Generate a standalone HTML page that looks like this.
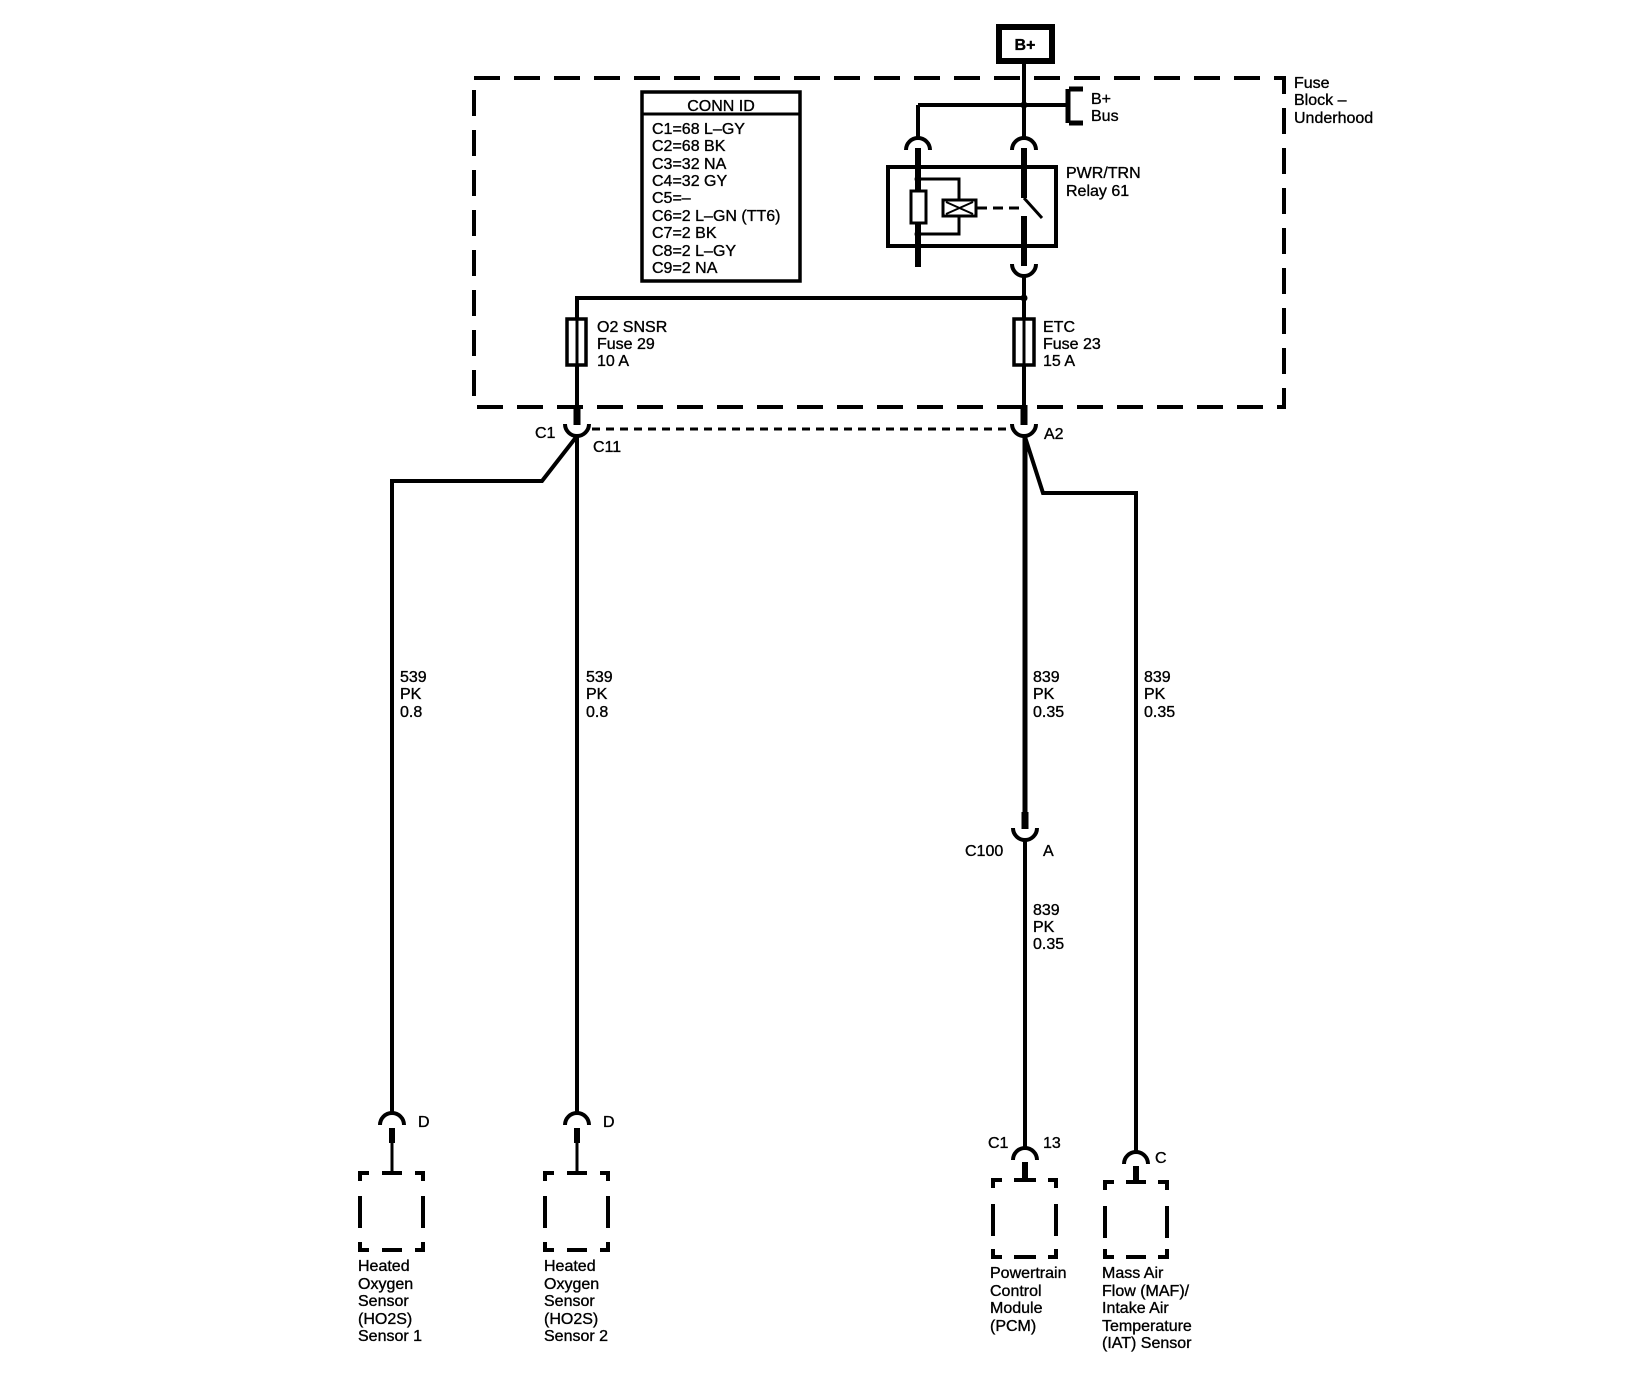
<!DOCTYPE html>
<html><head><meta charset="utf-8"><style>
html,body{margin:0;padding:0;background:#fff;}
svg{display:block;}
text{font-family:"Liberation Sans",Arial,sans-serif;font-size:16px;fill:#000;stroke:#000;stroke-width:0.35px;}
</style></head><body>
<svg width="1648" height="1376" viewBox="0 0 1648 1376" xmlns="http://www.w3.org/2000/svg">
<g fill="none" stroke="#000" stroke-linecap="butt">
<rect x="999" y="27" width="53" height="34" stroke-width="6"/>
<path d="M474 78 H1284 V407 H474 Z" stroke-width="4" stroke-dasharray="26 14"/>
<line x1="1024" y1="61" x2="1024" y2="138" stroke-width="4"/>
<line x1="918" y1="105" x2="1066" y2="105" stroke-width="4"/>
<line x1="918" y1="105" x2="918" y2="138" stroke-width="4"/>
<path d="M1069 89 H1083 M1068 89 V123 M1069 123 H1083" stroke-width="5"/>
<path d="M906 150 A12 12 0 0 1 930 150" stroke-width="4"/>
<path d="M1012 150 A12 12 0 0 1 1036 150" stroke-width="4"/>
<rect x="888" y="167" width="168" height="79" stroke-width="4"/>
<line x1="918" y1="148" x2="918" y2="267" stroke-width="6"/>
<path d="M918 179 H959 V234 H918" stroke-width="3"/>
<rect x="911" y="191" width="15" height="32" stroke-width="3" fill="#fff"/>
<rect x="943" y="200" width="33" height="16" stroke-width="3" fill="#fff"/>
<path d="M946 202 L973 214 M946 214 L973 202" stroke-width="2"/>
<line x1="977" y1="208" x2="1020" y2="208" stroke-width="3" stroke-dasharray="10 6"/>
<line x1="1024" y1="148" x2="1024" y2="198" stroke-width="6"/>
<line x1="1024" y1="198" x2="1042" y2="218" stroke-width="3"/>
<line x1="1024" y1="216" x2="1024" y2="266" stroke-width="6"/>
<path d="M1012 264 A12 12 0 0 0 1036 264" stroke-width="4"/>
<line x1="1024" y1="276" x2="1024" y2="410" stroke-width="4"/>
<line x1="576" y1="298" x2="1024" y2="298" stroke-width="4"/>
<line x1="577" y1="296" x2="577" y2="410" stroke-width="4"/>
<rect x="567" y="319" width="19" height="46" stroke-width="3.5" fill="#fff"/>
<line x1="577" y1="319" x2="577" y2="365" stroke-width="3"/>
<rect x="1014" y="319" width="20" height="46" stroke-width="3.5" fill="#fff"/>
<line x1="1024" y1="319" x2="1024" y2="365" stroke-width="3"/>
<rect x="642" y="92" width="158" height="189" stroke-width="3.5"/>
<line x1="642" y1="114" x2="800" y2="114" stroke-width="3"/>
<line x1="577" y1="405" x2="577" y2="425" stroke-width="7"/>
<line x1="1024" y1="405" x2="1024" y2="425" stroke-width="7"/>
<path d="M565 424 A12 12 0 0 0 589 424" stroke-width="4"/>
<path d="M1012 424 A12 12 0 0 0 1036 424" stroke-width="4"/>
<line x1="592" y1="429" x2="1010" y2="429" stroke-width="3" stroke-dasharray="8 6"/>
<path d="M577 436 L542 481 H392 V1113" stroke-width="4"/>
<line x1="577" y1="436" x2="577" y2="1113" stroke-width="4"/>
<line x1="1025" y1="436" x2="1025" y2="815" stroke-width="5"/>
<path d="M1025 437 L1043 493 H1136 V1152" stroke-width="4"/>
<line x1="1025" y1="812" x2="1025" y2="829" stroke-width="7"/>
<path d="M1013 828 A12 12 0 0 0 1037 828" stroke-width="4"/>
<line x1="1025" y1="840" x2="1025" y2="1148" stroke-width="4"/>
<path d="M380 1125 A12 12 0 0 1 404 1125" stroke-width="4"/>
<path d="M565 1125 A12 12 0 0 1 589 1125" stroke-width="4"/>
<path d="M1013 1160 A12 12 0 0 1 1037 1160" stroke-width="4"/>
<path d="M1124 1164 A12 12 0 0 1 1148 1164" stroke-width="4"/>
<line x1="392" y1="1128" x2="392" y2="1143" stroke-width="6"/>
<line x1="392" y1="1143" x2="392" y2="1171" stroke-width="3"/>
<line x1="577" y1="1128" x2="577" y2="1143" stroke-width="6"/>
<line x1="577" y1="1143" x2="577" y2="1171" stroke-width="3"/>
<line x1="1025" y1="1162" x2="1025" y2="1180" stroke-width="6"/>
<line x1="1136" y1="1166" x2="1136" y2="1182" stroke-width="6"/>
</g>
<g fill="none" stroke="#000" stroke-width="4">
<path d="M360 1181 V1173 H369 M382 1173 H402 M415 1173 H423 V1181 M360 1196 V1228 M423 1196 V1228 M360 1242 V1250 H369 M382 1250 H402 M415 1250 H423 V1242"/>
<path d="M545 1181 V1173 H554 M567 1173 H587 M600 1173 H608 V1181 M545 1196 V1228 M608 1196 V1228 M545 1242 V1250 H554 M567 1250 H587 M600 1250 H608 V1242"/>
<path d="M993 1188 V1180 H1002 M1014 1180 H1036 M1048 1180 H1056 V1188 M993 1204 V1236 M1056 1204 V1236 M993 1249 V1257 H1002 M1014 1257 H1036 M1048 1257 H1056 V1249"/>
<path d="M1105 1190 V1182 H1114 M1126 1182 H1146 M1158 1182 H1167 V1190 M1105 1206 V1238 M1167 1206 V1238 M1105 1249 V1257 H1114 M1126 1257 H1146 M1158 1257 H1167 V1249"/>
</g>
<g fill="#000">
<circle cx="1024" cy="105" r="3.5"/><circle cx="1024" cy="298" r="3.5"/>
<circle cx="918" cy="179" r="3.5"/><circle cx="918" cy="234" r="3.5"/>
</g>
<text x="1025" y="50" text-anchor="middle" font-weight="bold">B+</text>
<text x="1091" y="104">B+</text><text x="1091" y="121">Bus</text>
<text x="1294" y="88">Fuse</text><text x="1294" y="105">Block –</text><text x="1294" y="123">Underhood</text>
<text x="1066" y="178">PWR/TRN</text><text x="1066" y="196">Relay 61</text>
<text x="721" y="111" text-anchor="middle">CONN ID</text>
<g style="font-size:16.5px">
<text x="652" y="134">C1=68 L–GY</text><text x="652" y="151">C2=68 BK</text><text x="652" y="169">C3=32 NA</text>
<text x="652" y="186">C4=32 GY</text><text x="652" y="203">C5=–</text><text x="652" y="221">C6=2 L–GN (TT6)</text>
<text x="652" y="238">C7=2 BK</text><text x="652" y="256">C8=2 L–GY</text><text x="652" y="273">C9=2 NA</text>
</g>
<text x="597" y="332">O2 SNSR</text><text x="597" y="349">Fuse 29</text><text x="597" y="366">10 A</text>
<text x="1043" y="332">ETC</text><text x="1043" y="349">Fuse 23</text><text x="1043" y="366">15 A</text>
<text x="535" y="438">C1</text><text x="593" y="452">C11</text><text x="1044" y="439">A2</text>
<text x="400" y="682">539</text><text x="400" y="699">PK</text><text x="400" y="717">0.8</text>
<text x="586" y="682">539</text><text x="586" y="699">PK</text><text x="586" y="717">0.8</text>
<text x="1033" y="682">839</text><text x="1033" y="699">PK</text><text x="1033" y="717">0.35</text>
<text x="1144" y="682">839</text><text x="1144" y="699">PK</text><text x="1144" y="717">0.35</text>
<text x="965" y="856">C100</text><text x="1043" y="856">A</text>
<text x="1033" y="915">839</text><text x="1033" y="932">PK</text><text x="1033" y="949">0.35</text>
<text x="418" y="1127">D</text><text x="603" y="1127">D</text>
<text x="988" y="1148">C1</text><text x="1043" y="1148">13</text><text x="1155" y="1163">C</text>
<text x="358" y="1271">Heated</text><text x="358" y="1289">Oxygen</text><text x="358" y="1306">Sensor</text><text x="358" y="1324">(HO2S)</text><text x="358" y="1341">Sensor 1</text>
<text x="544" y="1271">Heated</text><text x="544" y="1289">Oxygen</text><text x="544" y="1306">Sensor</text><text x="544" y="1324">(HO2S)</text><text x="544" y="1341">Sensor 2</text>
<text x="990" y="1278">Powertrain</text><text x="990" y="1296">Control</text><text x="990" y="1313">Module</text><text x="990" y="1331">(PCM)</text>
<text x="1102" y="1278">Mass Air</text><text x="1102" y="1296">Flow (MAF)/</text><text x="1102" y="1313">Intake Air</text><text x="1102" y="1331">Temperature</text><text x="1102" y="1348">(IAT) Sensor</text>
</svg>
</body></html>
